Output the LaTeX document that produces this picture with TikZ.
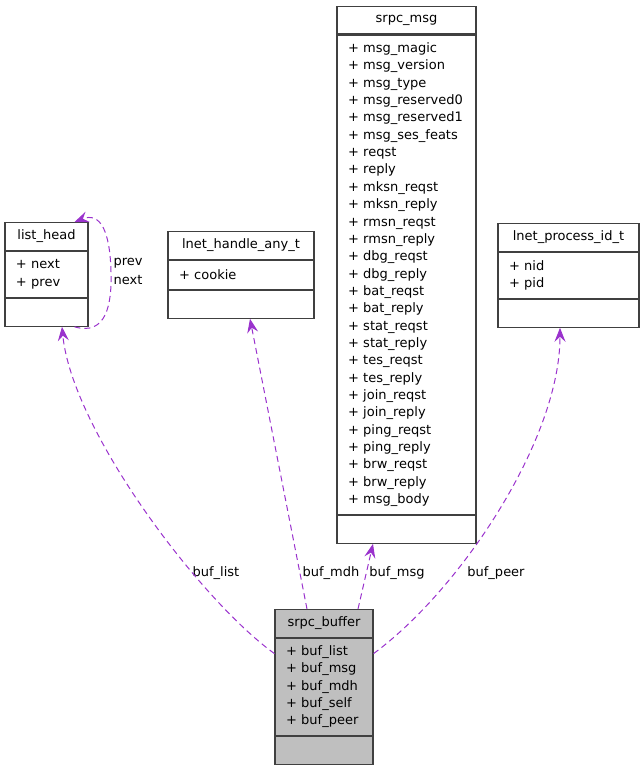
\documentclass[tikz,border=0pt]{standalone}
\usepackage{fontspec}
\setmainfont{DejaVu Sans}
\usepackage{xcolor}
\usetikzlibrary{arrows.meta,positioning}
\definecolor{relcol}{HTML}{9A32CD}
\definecolor{bufgray}{HTML}{BFBFBF}

\begin{document}
\begin{tikzpicture}[x=1pt, y=-1pt,
  font=\fontsize{13}{17.35}\selectfont,
  part/.style={draw=black!75, line width=1.1pt, inner xsep=11pt, inner ysep=0pt, fill=white},
  clsname/.style={part, align=center, minimum height=27.5pt, anchor=north},
  fields/.style={part, align=left, below=0pt of #1},
  meths/.style={part, minimum height=28pt, below=0pt of #1},
  rel/.style={draw=relcol, dashed, dash pattern=on 6pt off 4pt, line width=1pt, -{Stealth[length=14pt, width=11pt, inset=5pt]}},
  lbl/.style={inner sep=1pt}
]
\useasboundingbox (0,0) rectangle (644,768);
% Classes
\node[clsname, text width=61pt] (lhT) at (46.5,222) {list\_head};
\node[fields=lhT, text width=61pt, minimum height=46pt] (lhF) {+ next\\+ prev};
\node[meths=lhF, text width=61pt] (lhE) {};

\node[clsname, text width=124pt] (lnT) at (241,231) {lnet\_handle\_any\_t};
\node[fields=lnT, text width=124pt, minimum height=29pt] (lnF) {+ cookie};
\node[meths=lnF, text width=124pt] (lnE) {};

\node[clsname, text width=117pt] (msgT) at (406.5,6) {srpc\_msg};
\node[fields=msgT, text width=117pt, minimum height=479pt] (msgF) {+ msg\_magic\\+ msg\_version\\+ msg\_type\\+ msg\_reserved0\\+ msg\_reserved1\\+ msg\_ses\_feats\\+ reqst\\+ reply\\+ mksn\_reqst\\+ mksn\_reply\\+ rmsn\_reqst\\+ rmsn\_reply\\+ dbg\_reqst\\+ dbg\_reply\\+ bat\_reqst\\+ bat\_reply\\+ stat\_reqst\\+ stat\_reply\\+ tes\_reqst\\+ tes\_reply\\+ join\_reqst\\+ join\_reply\\+ ping\_reqst\\+ ping\_reply\\+ brw\_reqst\\+ brw\_reply\\+ msg\_body};
\node[meths=msgF, text width=117pt] (msgE) {};

\node[clsname, text width=119pt] (lpT) at (568.5,223) {lnet\_process\_id\_t};
\node[fields=lpT, text width=119pt, minimum height=46pt] (lpF) {+ nid\\+ pid};
\node[meths=lpF, text width=119pt] (lpE) {};

\node[clsname, text width=76pt, fill=bufgray] (bufT) at (324,609) {srpc\_buffer};
\node[fields=bufT, text width=76pt, minimum height=97pt, fill=bufgray] (bufF) {+ buf\_list\\+ buf\_msg\\+ buf\_mdh\\+ buf\_self\\+ buf\_peer};
\node[meths=bufF, text width=76pt, fill=bufgray] (bufE) {};

% Labels
\node[lbl] (lprev) at (128,263) {prev};
\node[lbl] (lnext) at (128,280) {next};
\node[lbl] (llist) at (216,573) {buf\_list};
\node[lbl] (lmdh) at (331,573) {buf\_mdh};
\node[lbl] (lmsg) at (397,573) {buf\_msg};
\node[lbl] (lpeer) at (496,573) {buf\_peer};

% Relations
\draw[rel] ([xshift=28pt]lhE.south) .. controls (106,336) and (112,305) .. (111,272)
  .. controls (110,230) and (100,212) .. ([xshift=28pt]lhT.north);
\draw[rel] ([yshift=-16pt]bufF.north west) .. controls (200,600) and (72,430) .. ([xshift=15.5pt]lhE.south);
\draw[rel] ([xshift=-17pt]bufT.north) -- ([xshift=9pt]lnE.south);
\draw[rel] ([xshift=34pt]bufT.north) -- ([xshift=-33.5pt]msgE.south);
\draw[rel] ([yshift=-16pt]bufF.north east) .. controls (460,590) and (560,440) .. ([xshift=-8.5pt]lpE.south);
\end{tikzpicture}
\end{document}
